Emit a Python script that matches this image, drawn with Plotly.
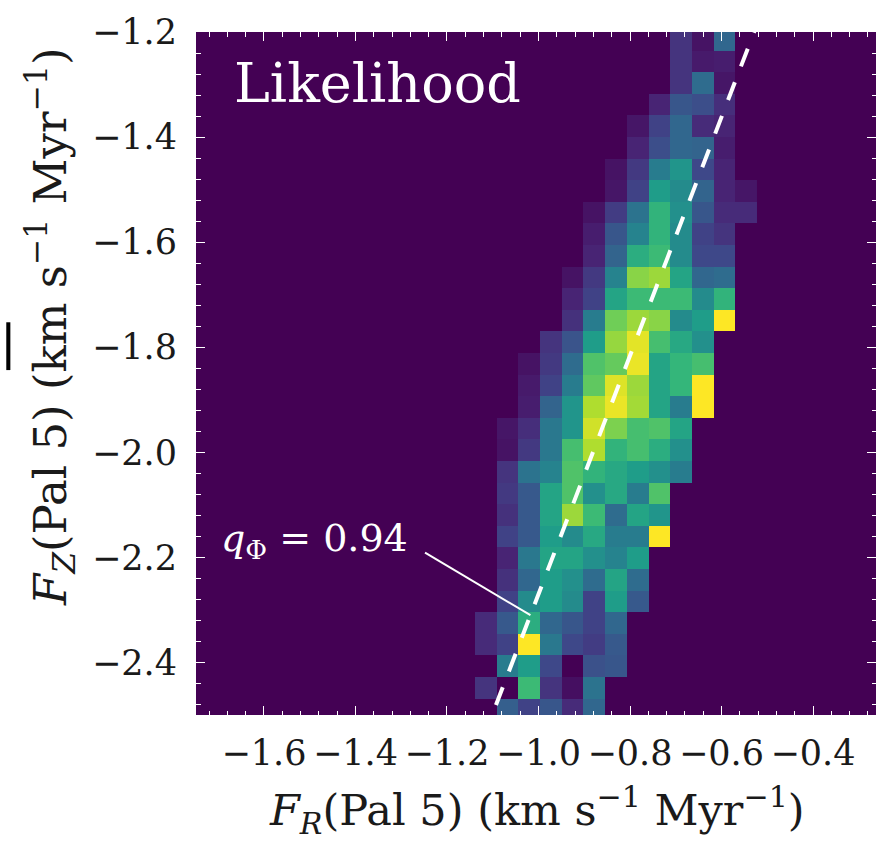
import numpy as np
import plotly.graph_objects as go

# --- 2D likelihood histogram over (F_R, F_Z) of Pal 5 -----------------------
# bin layout (km s^-1 Myr^-1)
fr_first_edge = -1.1388   # left edge of the first F_R column
fr_bin_width = 0.04736
fz_first_edge = -1.1945   # upper edge of the first F_Z row
fz_bin_height = 0.0411

# normalised likelihood, rows from high F_Z (top) to low F_Z (bottom)
likelihood = [
    [0, 0, 0, 0, 0, 0, 0, 0, 0, .15, .05, .33, 0],
    [0, 0, 0, 0, 0, 0, 0, 0, 0, .15, .07, .08, 0],
    [0, 0, 0, 0, 0, 0, 0, 0, 0, .15, .35, .06, 0],
    [0, 0, 0, 0, 0, 0, 0, 0, .10, .27, .24, .13, 0],
    [0, 0, 0, 0, 0, 0, 0, .06, .20, .33, .12, .10, 0],
    [0, 0, 0, 0, 0, 0, 0, .10, .24, .33, .32, .08, 0],
    [0, 0, 0, 0, 0, 0, .05, .17, .42, .52, .22, .10, 0],
    [0, 0, 0, 0, 0, 0, .06, .20, .55, .48, .32, .10, .06],
    [0, 0, 0, 0, 0, .05, .18, .38, .65, .50, .27, .12, .12],
    [0, 0, 0, 0, 0, .08, .27, .45, .65, .48, .20, .15, 0],
    [0, 0, 0, 0, 0, .10, .32, .62, .68, .48, .22, .22, 0],
    [0, 0, 0, 0, .05, .17, .45, .82, .85, .58, .33, .35, 0],
    [0, 0, 0, 0, .10, .20, .58, .68, .68, .68, .48, .65, 0],
    [0, 0, 0, 0, .14, .42, .78, .85, .82, .48, .55, 1.0, 0],
    [0, 0, 0, .15, .26, .55, .84, .96, .70, .60, .50, 0, 0],
    [0, 0, .05, .17, .35, .72, .76, .97, .58, .66, .70, 0, 0],
    [0, 0, .07, .20, .42, .75, .95, .85, .58, .66, 1.0, 0, 0],
    [0, 0, .08, .32, .52, .88, .97, .86, .58, .42, 1.0, 0, 0],
    [0, .06, .13, .40, .52, .93, .80, .70, .72, .58, 0, 0, 0],
    [0, .05, .17, .40, .70, .88, .65, .70, .62, .50, 0, 0, 0],
    [0, .15, .38, .45, .72, .65, .60, .55, .50, .42, 0, 0, 0],
    [0, .17, .28, .58, .72, .50, .60, .42, .72, 0, 0, 0, 0],
    [0, .14, .28, .58, .85, .68, .35, .58, .52, 0, 0, 0, 0],
    [0, .20, .28, .55, .48, .60, .42, .42, 1.0, 0, 0, 0, 0],
    [0, .10, .40, .58, .58, .50, .45, .55, 0, 0, 0, 0, 0],
    [0, .14, .33, .55, .50, .35, .58, .35, 0, 0, 0, 0, 0],
    [0, .20, .48, .55, .48, .20, .55, .28, 0, 0, 0, 0, 0],
    [.12, .28, .62, .33, .27, .20, .33, 0, 0, 0, 0, 0, 0],
    [.12, .20, 1.0, .40, .22, .18, .28, 0, 0, 0, 0, 0, 0],
    [0, .42, .55, .22, 0, .25, .27, 0, 0, 0, 0, 0, 0],
    [.15, 0, .68, .15, .04, .38, 0, 0, 0, 0, 0, 0, 0],
    [0, .30, .20, .27, .12, .33, 0, 0, 0, 0, 0, 0, 0],
]

# flattening line F_Z = k F_R for q_Phi = 0.94
q_phi = 0.94
fz_over_fr = 2.27
line_fz = [-2.545, -1.15]
# point on the line that the label points to, and where the pointer starts
pointer_tip_fz = -2.31
pointer_tail = (-1.248, -2.191)
label_center = (-1.49, -2.168)

x_ticks = [-1.6, -1.4, -1.2, -1.0, -0.8, -0.6, -0.4]
y_ticks = [-2.4, -2.2, -2.0, -1.8, -1.6, -1.4, -1.2]
x_range = [-1.7486, -0.2623]
y_range = [-2.5, -1.2]

n_rows = len(likelihood)
n_cols = len(likelihood[0])
fr_centers = fr_first_edge + (np.arange(n_cols) + 0.5) * fr_bin_width
fz_centers = fz_first_edge - (np.arange(n_rows) + 0.5) * fz_bin_height

SERIF = "DejaVu Serif"
BG = "#440154"

fig = go.Figure()
fig.add_trace(go.Heatmap(
    x=fr_centers, y=fz_centers, z=likelihood,
    colorscale="Viridis", zmin=0, zmax=1, showscale=False,
    hoverinfo="skip",
))

line_fr = [fz / fz_over_fr for fz in line_fz]
fig.add_trace(go.Scatter(
    x=line_fr, y=line_fz, mode="lines",
    line=dict(color="white", width=4, dash="19px,17px"),
    showlegend=False, hoverinfo="skip",
))

pointer_tip_fr = pointer_tip_fz / fz_over_fr
fig.add_shape(type="line", xref="x", yref="y",
              x0=pointer_tail[0], y0=pointer_tail[1],
              x1=pointer_tip_fr, y1=pointer_tip_fz,
              line=dict(color="white", width=2))

# small dark mark at the far left edge of the figure
fig.add_shape(type="rect", xref="paper", yref="paper",
              x0=-0.279, x1=-0.273, y0=0.505, y1=0.575,
              fillcolor="black", line=dict(width=0))

fig.add_annotation(x=label_center[0], y=label_center[1], xref="x", yref="y",
                   text=f"<i>q</i><sub>Φ</sub> = {q_phi:.2f}", showarrow=False,
                   font=dict(family=SERIF, size=38, color="white"),
                   xanchor="center", yanchor="middle")

fig.add_annotation(x=0.053, y=0.924, xref="paper", yref="paper",
                   text="Likelihood", showarrow=False,
                   font=dict(family=SERIF, size=54, color="white"),
                   xanchor="left", yanchor="middle")

# axis titles
fig.add_annotation(x=0.501, y=-0.139, xref="paper", yref="paper",
                   text="<i>F</i><sub><i>R</i></sub>(Pal 5) (km s<sup>−1</sup> Myr<sup>−1</sup>)",
                   showarrow=False, font=dict(family=SERIF, size=43, color="#1a1a1a"),
                   xanchor="center", yanchor="middle")
fig.add_annotation(x=-0.2147, y=0.568, xref="paper", yref="paper",
                   text="<i>F</i><sub><i>Z</i></sub>(Pal 5) (km s<sup>−1</sup> Myr<sup>−1</sup>)",
                   textangle=-90, showarrow=False,
                   font=dict(family=SERIF, size=45, color="#1a1a1a"),
                   xanchor="center", yanchor="middle")

axis_common = dict(
    ticks="inside", ticklen=9, tickwidth=1.2, tickcolor="white",
    mirror="ticks", showline=False, showgrid=False, zeroline=False,
    tickformat=".1f", tickfont=dict(family=SERIF, size=35, color="#1a1a1a"),
    minor=dict(ticks="inside", ticklen=4.5, tickwidth=1, tickcolor="white",
               dtick=0.04, tick0=0, showgrid=False),
)

fig.update_xaxes(range=x_range, tickmode="array", tickvals=x_ticks,
                 ticklabelstandoff=14, **axis_common)
fig.update_yaxes(range=y_range, tickmode="array", tickvals=y_ticks,
                 ticklabelstandoff=18, **axis_common)

fig.update_layout(
    width=876, height=842,
    margin=dict(l=196, r=0, t=32, b=127, pad=0),
    plot_bgcolor=BG, paper_bgcolor="white",
    showlegend=False,
)

fig.write_html("out.html")
